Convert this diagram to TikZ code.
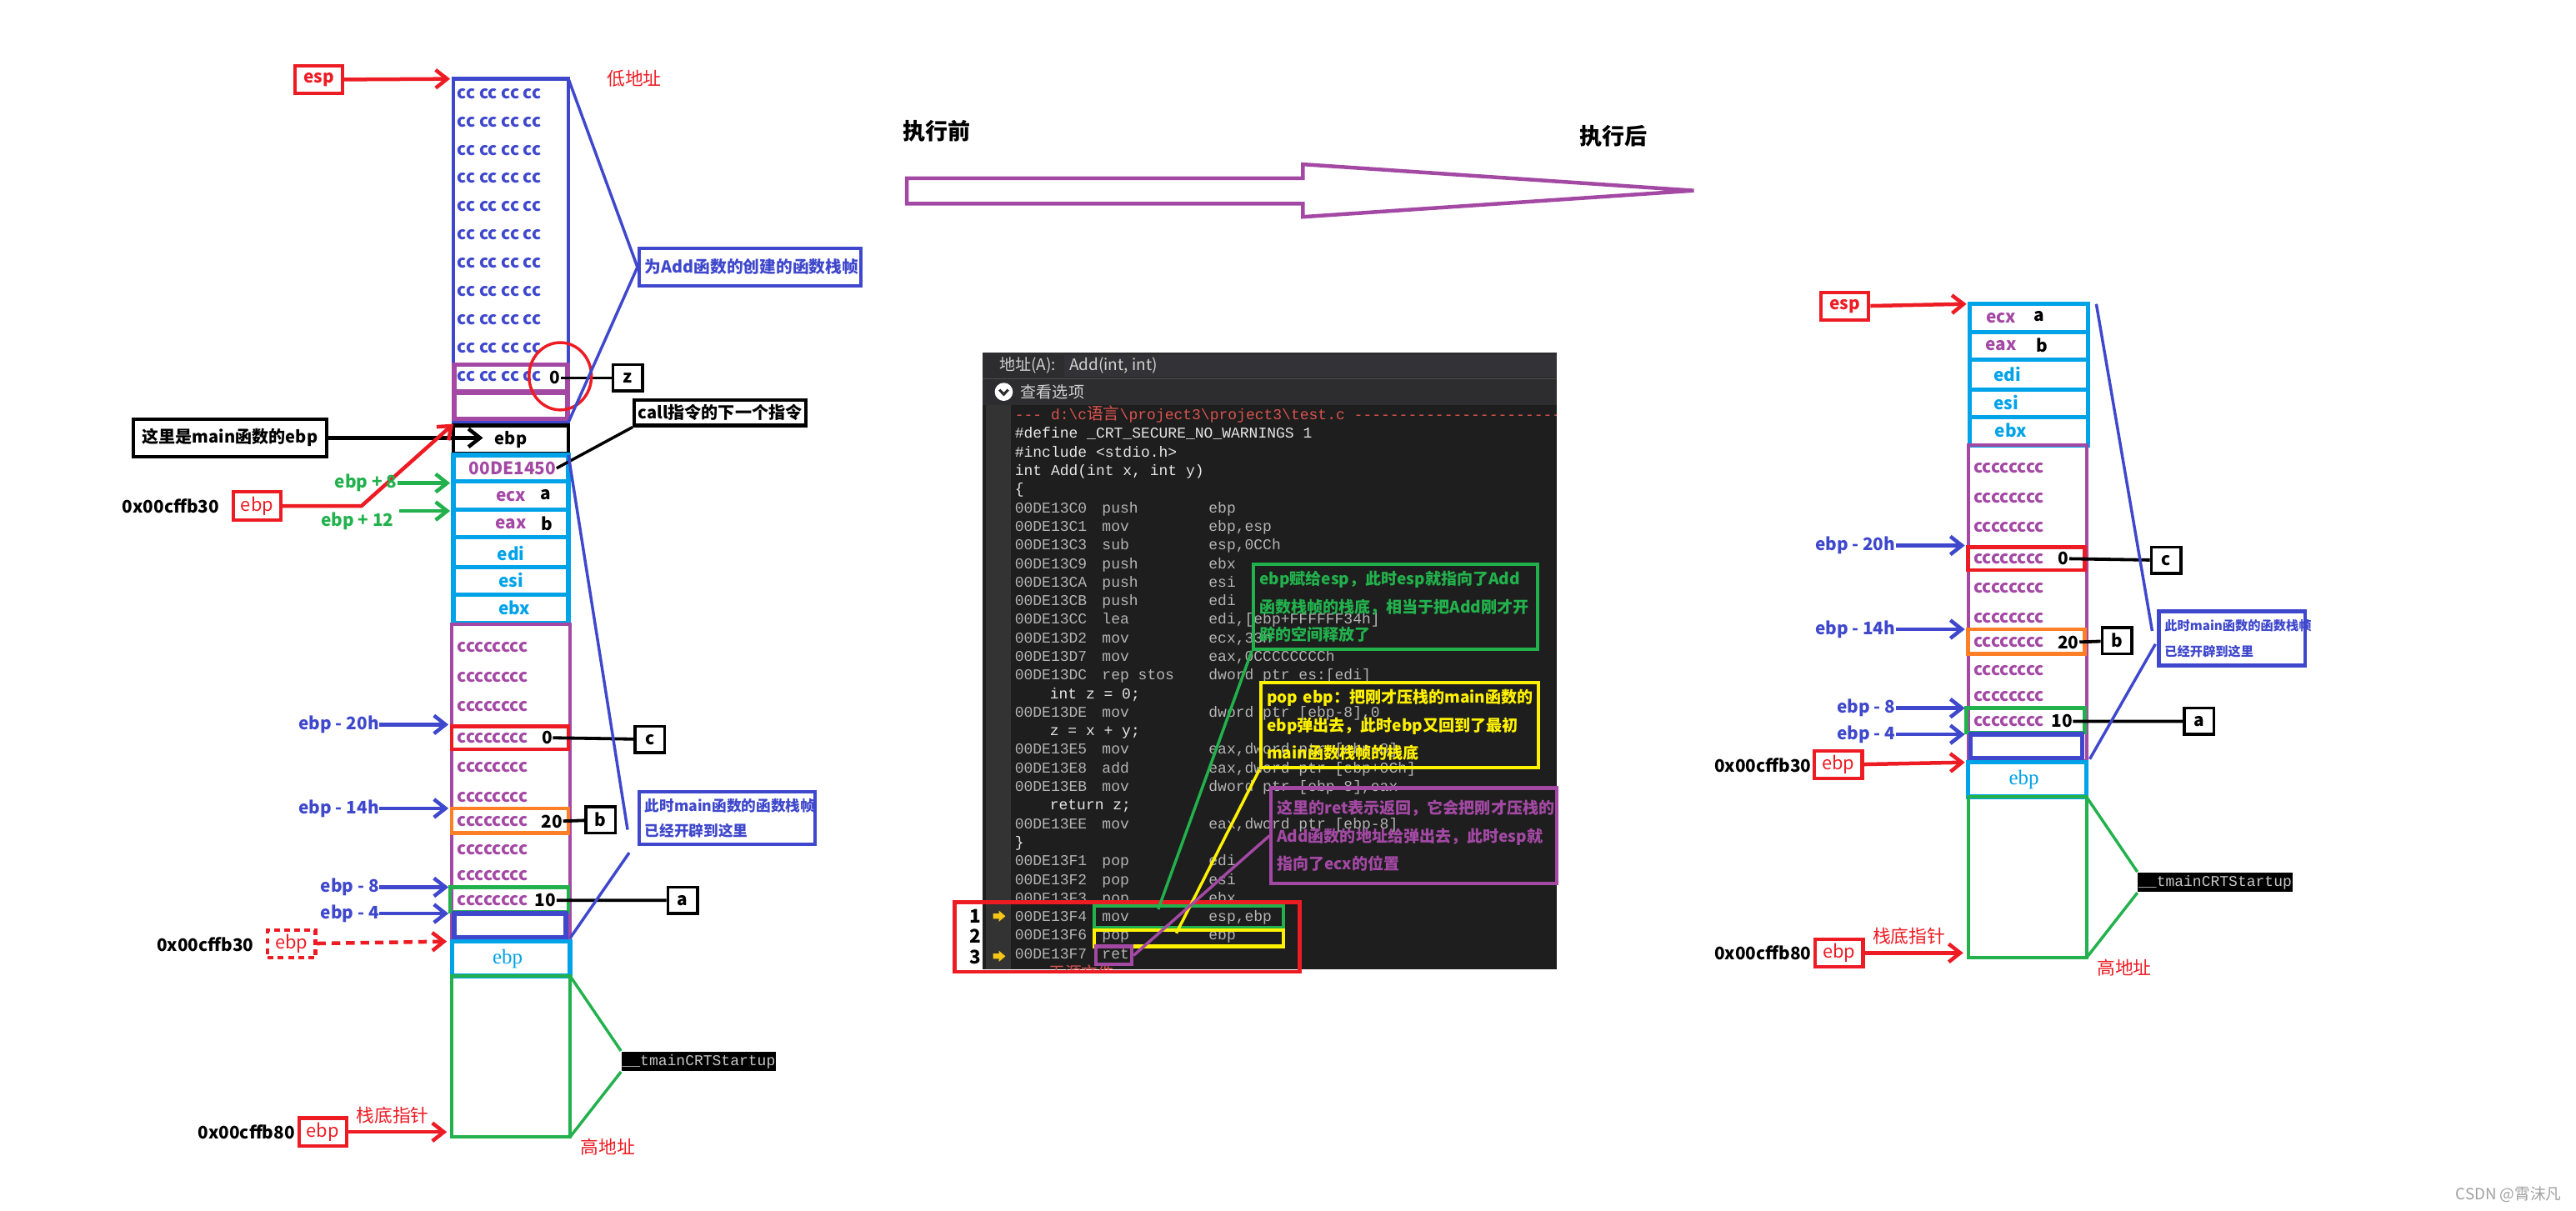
\documentclass[tikz,border=0pt]{standalone}
\usepackage{fontspec}
\setmainfont{Noto Sans CJK SC}
\newfontfamily\codefont{Liberation Mono}
\newfontfamily\cjkfont{Noto Sans CJK SC}
\newfontfamily\seriffont{Liberation Serif}
\usetikzlibrary{arrows.meta}

\definecolor{pblue}{HTML}{3F48CC}
\definecolor{ppurple}{HTML}{A349A4}
\definecolor{pcyan}{HTML}{00A2E8}
\definecolor{pgreen}{HTML}{22B14C}
\definecolor{pred}{HTML}{ED1C24}
\definecolor{porange}{HTML}{FF7F27}
\definecolor{pyellow}{HTML}{FFF200}
\definecolor{codebg}{HTML}{1E1E1E}
\definecolor{hdrbg}{HTML}{2D2D30}
\definecolor{inputbg}{HTML}{333337}
\definecolor{gutterbg}{HTML}{333333}
\definecolor{asmgray}{HTML}{B4B4B4}
\definecolor{srcwhite}{HTML}{E6E6E6}
\definecolor{codered}{HTML}{D9534F}
\definecolor{uigray}{HTML}{D0D0D0}
\definecolor{iconyel}{HTML}{F5C518}

\tikzset{
  lab/.style={inner sep=0pt, font=\fontsize{6}{7}\selectfont\bfseries},
  plain/.style={inner sep=0pt, font=\fontsize{6.3}{7}\selectfont},
  tagbox/.style={lab, draw=black, line width=1pt, minimum width=0.36cm, minimum height=0.32cm},
  blackbox/.style={lab, draw=black, line width=1.2pt, font=\fontsize{5.8}{7}\selectfont\bfseries},
  redbox/.style={plain, draw=pred, text=pred, line width=1.2pt, minimum width=0.58cm, minimum height=0.34cm},
  barb/.style={-{Straight Barb[length=1.4mm,width=2.2mm]}},
  bluearr/.style={barb, pblue, line width=1.3pt},
  redarr/.style={barb, pred, line width=1.3pt},
  greenarr/.style={barb, pgreen, line width=1.3pt},
  blackarr/.style={barb, black, line width=1.3pt},
  cell/.style={pcyan, line width=1.5pt},
  code/.style={inner sep=0pt, font=\codefont\fontsize{5.2}{6}\selectfont, text=asmgray},
  uitext/.style={inner sep=0pt, font=\fontsize{5.5}{6}\selectfont, text=uigray},
  note/.style={draw, line width=1.2pt, inner xsep=0.07cm, inner ysep=0pt, align=left, anchor=north west, font=\fontsize{5.5}{9.7}\selectfont\bfseries},
}

\newcommand\dashrun{-{}-{}-{}-{}-{}-{}-{}-{}-{}-{}-{}-{}-{}-{}-{}-{}-{}-{}-{}-{}-{}-{}-{}-{}-{}-{}-{}-{}-{}-{}}

% main function frame, origin = top left of the purple box
\newcommand\mainframe[1]{%
  \draw[ppurple, line width=1.2pt] (0,0) rectangle (72,192);
  \foreach \rw/\yy in {1/14,2/32,3/50,4/69,5/87,6/105,7/120,8/137,9/153,10/168}
    \node[lab, text=ppurple, anchor=west] (#1cc\rw) at (3,\yy) {cccccccc};
  \draw[pred, line width=1.3pt] (0,62) rectangle (71,76);
  \draw[porange, line width=1.3pt] (0,112) rectangle (71,127);
  \draw[pgreen, line width=1.3pt] (-1,160) rectangle (71,175);
  \draw[pblue, line width=1.6pt] (1.5,176) rectangle (69.5,190.5);
  \node[lab] (#1v0) at (58,69) {0};
  \node[lab] (#1v20) at (61,120) {20};
  \node[lab] (#1v10) at (57,168) {10};
  \node[tagbox] (#1c) at (120.5,70) {c};
  \node[tagbox] (#1b) at (90.5,119) {b};
  \node[tagbox] (#1a) at (140.5,168) {a};
  \draw[line width=1.1pt] (#1v0) -- (#1c) (#1v20) -- (#1b) (#1v10) -- (#1a);
  \foreach \lt/\yy/\nm in {ebp - 20h/61/m20, ebp - 14h/112/m14, ebp - 8/160/m8, ebp - 4/176/m4} {
    \node[lab, text=pblue, anchor=east] (#1\nm) at (-44,\yy) {\lt};
    \coordinate (#1\nm-t) at (-2,\yy);
    \draw[bluearr] (#1\nm) -- (#1\nm-t);
  }
  \draw[cell] (0,193) rectangle (72,214);
  \node[inner sep=0pt, text=pcyan, font=\seriffont\fontsize{7.2}{8}\selectfont] (#1ebpc) at (34,203.5) {ebp};
  \draw[pgreen, line width=1.2pt] (0,214) rectangle (72,312);
  \node[fill=black, text=gray!45, inner sep=0pt, anchor=west, minimum width=1.88cm, minimum height=0.24cm, font=\codefont\fontsize{5.2}{6}\selectfont] (#1tm) at (103,266) {\_\_tmainCRTStartup};
  \coordinate (#1gtop) at (72,214);
  \coordinate (#1gbot) at (72,312);
  \draw[pgreen, line width=1pt] (#1gtop) -- (#1tm.north west) (#1tm.south west) -- (#1gbot);
  \node[plain, text=pred] (#1high) at (95,318) {高地址};
  \node[redbox] (#1base) at (-78.5,309) {ebp};
  \coordinate (#1base-t) at (-3,309);
  \draw[redarr] (#1base) -- (#1base-t);
  \node[plain, text=pred] (#1bp) at (-36,299) {栈底指针};
  \node[lab] (#1addr80) at (-125,309) {0x00cffb80};
}

\begin{document}
\begin{tikzpicture}[x=0.02cm, y=-0.02cm]
\useasboundingbox (0,0) rectangle (1568,737);

%% ---------- left: before ----------
\node[redbox, font=\fontsize{6}{7}\selectfont\bfseries] (Lesp) at (194,48.5) {esp};
\coordinate (Lesp-t) at (274,48);
\draw[redarr] (Lesp) -- (Lesp-t);
\node[plain, text=pred] (Llow) at (386,48) {低地址};

\draw[pblue, line width=1.3pt] (276,48) rectangle (346,257);
\foreach \rw in {0,...,10}
  \node[lab, text=pblue, anchor=west] (Lcc\rw) at (278,{57+17.2*\rw}) {cc cc cc cc};
\draw[ppurple, line width=1.5pt] (276.5,222) rectangle (345.5,238);
\draw[ppurple, line width=1.5pt] (276.5,239) rectangle (345.5,255);
\node[lab] (Lz0) at (338,230) {0};
\node[tagbox] (Lz) at (382,230) {z};
\draw[line width=1.1pt] (Lz0) -- (Lz);
\draw[pred, line width=1pt] (341,229) ellipse [x radius=0.38cm, y radius=0.41cm];

\node[note, draw=pblue, text=pblue, text width=2.56cm, minimum height=0.46cm, font=\fontsize{5.7}{7}\selectfont\bfseries] (Ladd) at (388,150) {为Add函数的创建的函数栈帧};
\coordinate (Laddtop) at (346,48);
\coordinate (Laddbot) at (346,257);
\draw[pblue, line width=1pt] (Laddtop) -- (Ladd.west) -- (Laddbot);

\node[blackbox, minimum width=1.4cm, minimum height=0.34cm] (Lebp) at (311,267.5) {ebp};
\node[blackbox, minimum width=2.36cm, minimum height=0.46cm] (Lmain) at (140,266.5) {这里是main函数的ebp};
\coordinate (Lmain-t) at (294,266.5);
\draw[blackarr] (Lmain) -- (Lmain-t);

\draw[cell] (276,277) rectangle (346,293);
\draw[cell] (276,293) rectangle (346,310);
\draw[cell] (276,310) rectangle (346,327);
\draw[cell] (276,327) rectangle (346,345);
\draw[cell] (276,345) rectangle (346,362);
\draw[cell] (276,362) rectangle (346,379);
\node[lab, text=ppurple] (Lret) at (312,285) {00DE1450};
\node[lab, text=ppurple] (Lecx) at (311,302) {ecx};
\node[lab] (Lecxa) at (332,301) {a};
\node[lab, text=ppurple] (Leax) at (311,319) {eax};
\node[lab] (Leaxb) at (333,318.5) {b};
\node[lab, text=pcyan] (Ledi) at (311,337) {edi};
\node[lab, text=pcyan] (Lesi) at (311,353) {esi};
\node[lab, text=pcyan] (Lebx) at (313,370) {ebx};

\node[blackbox, minimum width=2.09cm, minimum height=0.31cm] (Lcall) at (438.3,251.2) {call指令的下一个指令};
\draw[line width=1pt] (Lret.east) -- (Lcall.south west);

\node[redbox] (Lebpred) at (156.5,308) {ebp};
\node[lab] (Laddr30) at (104,308) {0x00cffb30};
\coordinate (Lbend) at (220,308);
\coordinate (Lebp-t) at (276,258);
\draw[redarr] (Lebpred) -- (Lbend) -- (Lebp-t);

\node[lab, text=pgreen, anchor=east] (Lp8) at (242,294) {ebp + 8};
\coordinate (Lp8-t) at (274,294);
\draw[greenarr] (Lp8) -- (Lp8-t);
\node[lab, text=pgreen, anchor=east] (Lp12) at (240,317) {ebp + 12};
\coordinate (Lp12-s) at (243,311);
\coordinate (Lp12-t) at (274,311);
\draw[greenarr] (Lp12-s) -- (Lp12-t);

\begin{scope}[shift={(275,380)}]
  \mainframe{L}
\end{scope}

\node[note, draw=pblue, text=pblue, text width=2.0cm, minimum height=0.64cm, font=\fontsize{5.1}{8.5}\selectfont\bfseries] (Lmf) at (388,481) {此时main函数的函数栈帧\\已经开辟到这里};
\coordinate (Lmftop) at (346,277);
\coordinate (Lmfa) at (382,505);
\coordinate (Lmfb) at (383,519);
\coordinate (Lmfbot) at (347,571);
\draw[pblue, line width=1pt] (Lmftop) -- (Lmfa) (Lmfb) -- (Lmfbot);

\node[redbox, dash pattern=on 2pt off 1.5pt] (Lold) at (177.5,574.5) {ebp};
\node[lab] (Laddr30b) at (125,575) {0x00cffb30};
\coordinate (Lold-t) at (272,573);
\draw[redarr, dash pattern=on 3pt off 2pt] (Lold) -- (Lold-t);

%% ---------- middle ----------
\node[inner sep=0pt, font=\fontsize{7.8}{9}\selectfont\bfseries] (before) at (570,80) {执行前};
\node[inner sep=0pt, font=\fontsize{7.8}{9}\selectfont\bfseries] (after) at (982,83) {执行后};
\draw[ppurple, line width=1.3pt] (552,108.5) -- (793,108.5) -- (793,100) -- (1031,116) -- (793,132) -- (793,124) -- (552,124) -- cycle;

% code window
\fill[codebg] (598,214.6) rectangle (947.5,590);
\fill[hdrbg] (598,214.6) rectangle (947.5,246.5);
\draw[black!70, line width=0.4pt] (598,230.7) -- (947.5,230.7);
\fill[inputbg] (648,216) rectangle (947.5,229.5);
\node[uitext, anchor=west] (hdrA) at (608,222.4) {地址(A):};
\node[uitext, anchor=west] (hdrfn) at (650.5,222.4) {Add(int, int)};
\fill[white] (611,238.5) circle [radius=0.11cm];
\draw[hdrbg, line width=0.9pt] (608.3,237.2) -- (611,240) -- (613.7,237.2);
\node[uitext, anchor=west] (hdrview) at (621,238.5) {查看选项};
\fill[gutterbg] (600,246.5) rectangle (615.5,590);

\begin{scope}
\clip (598,246.5) rectangle (947.5,590);
\node[code, text=codered, anchor=base west] (src0) at (617.4,255.5) {-{}-{}- d:\textbackslash c{\cjkfont\fontsize{5.7}{6}\selectfont 语言}\textbackslash project3\textbackslash project3\textbackslash test.c \dashrun\dashrun};
\foreach \i/\xx/\src in {1/617.4/{\#define \_CRT\_SECURE\_NO\_WARNINGS 1}, 2/617.4/{\#include <stdio.h>}, 3/617.4/{int Add(int x, int y)}, 4/617.4/{\{}, 15/638.7/{int z = 0;}, 17/638.7/{z = x + y;}, 21/638.7/{return z;}, 23/617.4/{\}}}
  \node[code, text=srcwhite, anchor=base west] (src\i) at (\xx,{252.5+11.31*\i+3}) {\src};
\foreach \i/\ad/\mn/\op in {5/00DE13C0/push/ebp, 6/00DE13C1/mov/{ebp,esp}, 7/00DE13C3/sub/{esp,0CCh}, 8/00DE13C9/push/ebx, 9/00DE13CA/push/esi, 10/00DE13CB/push/edi, 11/00DE13CC/lea/{edi,[ebp+FFFFFF34h]}, 12/00DE13D2/mov/{ecx,33h}, 13/00DE13D7/mov/{eax,0CCCCCCCCh}, 14/00DE13DC/rep stos/{dword ptr es:[edi]}, 16/00DE13DE/mov/{dword ptr [ebp-8],0}, 18/00DE13E5/mov/{eax,dword ptr [ebp+8]}, 19/00DE13E8/add/{eax,dword ptr [ebp+0Ch]}, 20/00DE13EB/mov/{dword ptr [ebp-8],eax}, 22/00DE13EE/mov/{eax,dword ptr [ebp-8]}, 24/00DE13F1/pop/edi, 25/00DE13F2/pop/esi, 26/00DE13F3/pop/ebx, 27/00DE13F4/mov/{esp,ebp}, 28/00DE13F6/pop/ebp, 29/00DE13F7/ret/{}} {
  \node[code, anchor=base west] (ad\i) at (617.4,{252.5+11.31*\i+3}) {\ad};
  \node[code, anchor=base west] (mn\i) at (670.5,{252.5+11.31*\i+3}) {\mn};
  \node[code, anchor=base west] (op\i) at (735.4,{252.5+11.31*\i+3}) {\op};
}
\node[inner sep=0pt, text=codered, anchor=base west, font=\fontsize{5.7}{6}\selectfont] (nosrc) at (638,596) {无源文件};
\end{scope}

% current line markers
\foreach \yy in {557.6,582}
  \fill[iconyel] (604.5,{\yy-1.6}) -- (608,{\yy-1.6}) -- (608,{\yy-3.4}) -- (612,\yy) -- (608,{\yy+3.4}) -- (608,{\yy+1.6}) -- (604.5,{\yy+1.6}) -- cycle;
\node[lab, font=\fontsize{6.5}{7}\selectfont\bfseries] (n1) at (593.6,557.6) {1};
\node[lab, font=\fontsize{6.5}{7}\selectfont\bfseries] (n2) at (593.6,570) {2};
\node[lab, font=\fontsize{6.5}{7}\selectfont\bfseries] (n3) at (593.6,582.5) {3};

\node[draw=pred, line width=1.3pt, minimum width=4.2cm, minimum height=0.85cm, inner sep=0pt] (epilog) at (686,570.3) {};
\node[draw=pgreen, line width=1.2pt, minimum width=2.3cm, minimum height=0.26cm, inner sep=0pt] (movbox) at (723.5,558) {};
\node[draw=pyellow, line width=1.2pt, minimum width=2.3cm, minimum height=0.2cm, inner sep=0pt] (popbox) at (723.5,571) {};
\node[draw=ppurple, line width=1.2pt, minimum width=0.44cm, minimum height=0.22cm, inner sep=0pt] (retbox) at (678,581.5) {};

\node[note, draw=pgreen, text=pgreen, text width=3.32cm, minimum height=1.03cm] (gnote) at (762,342.5) {ebp赋给esp，此时esp就指向了Add\\函数栈帧的栈底，相当于把Add刚才开\\辟的空间释放了};
\node[note, draw=pyellow, text=pyellow, text width=3.24cm, minimum height=1.04cm] (ynote) at (766.6,414.3) {pop~ebp：把刚才压栈的main函数的\\ebp弹出去，此时ebp又回到了最初\\main函数栈帧的栈底};
\node[note, draw=ppurple, text=ppurple, text width=3.34cm, minimum height=1.16cm] (pnote) at (772.7,478.6) {这里的ret表示返回，它会把刚才压栈的\\Add函数的地址给弹出去，此时esp就\\指向了ecx的位置};
\coordinate (movpt) at (705,553.4);
\coordinate (poppt) at (716,568);
\draw[pgreen, line width=1pt] (movpt) -- (gnote.south west);
\draw[pyellow, line width=1pt] (poppt) -- (ynote.south west);
\draw[ppurple, line width=1pt] (retbox.east) -- (pnote.west);

%% ---------- right: after ----------
\node[redbox, font=\fontsize{6}{7}\selectfont\bfseries] (Resp) at (1123,186.5) {esp};
\coordinate (Resp-t) at (1197,185);
\draw[redarr] (Resp) -- (Resp-t);

\draw[cell] (1199,185) rectangle (1271,202);
\draw[cell] (1199,202) rectangle (1271,219);
\draw[cell] (1199,219) rectangle (1271,237);
\draw[cell] (1199,237) rectangle (1271,254);
\draw[cell] (1199,254) rectangle (1271,271);
\node[lab, text=ppurple] (Recx) at (1218,193.5) {ecx};
\node[lab] (Recxa) at (1241,192.5) {a};
\node[lab, text=ppurple] (Reax) at (1218,210.5) {eax};
\node[lab] (Reaxb) at (1243,210) {b};
\node[lab, text=pcyan] (Redi) at (1222,228) {edi};
\node[lab, text=pcyan] (Resi) at (1221,245) {esi};
\node[lab, text=pcyan] (Rebx) at (1224,262) {ebx};

\begin{scope}[shift={(1198,271)}]
  \mainframe{R}
\end{scope}

\node[note, draw=pblue, text=pblue, text width=1.64cm, minimum height=0.66cm, font=\fontsize{4.4}{9}\selectfont\bfseries] (Rmf) at (1313,371) {此时main函数的函数栈帧\\已经开辟到这里};
\coordinate (Rmftop) at (1276,185);
\coordinate (Rmfa) at (1310,384);
\coordinate (Rmfb) at (1312,392);
\coordinate (Rmfbot) at (1272,462);
\draw[pblue, line width=1pt] (Rmftop) -- (Rmfa) (Rmfb) -- (Rmfbot);

\node[redbox] (Rold) at (1119,465.5) {ebp};
\node[lab] (Raddr30) at (1073,466) {0x00cffb30};
\coordinate (Rold-t) at (1196,464);
\draw[redarr] (Rold) -- (Rold-t);

\node[inner sep=0pt, text=gray!75, font=\fontsize{5.4}{6}\selectfont] (wm) at (1527,727) {CSDN @霄沫凡};
\end{tikzpicture}
\end{document}
